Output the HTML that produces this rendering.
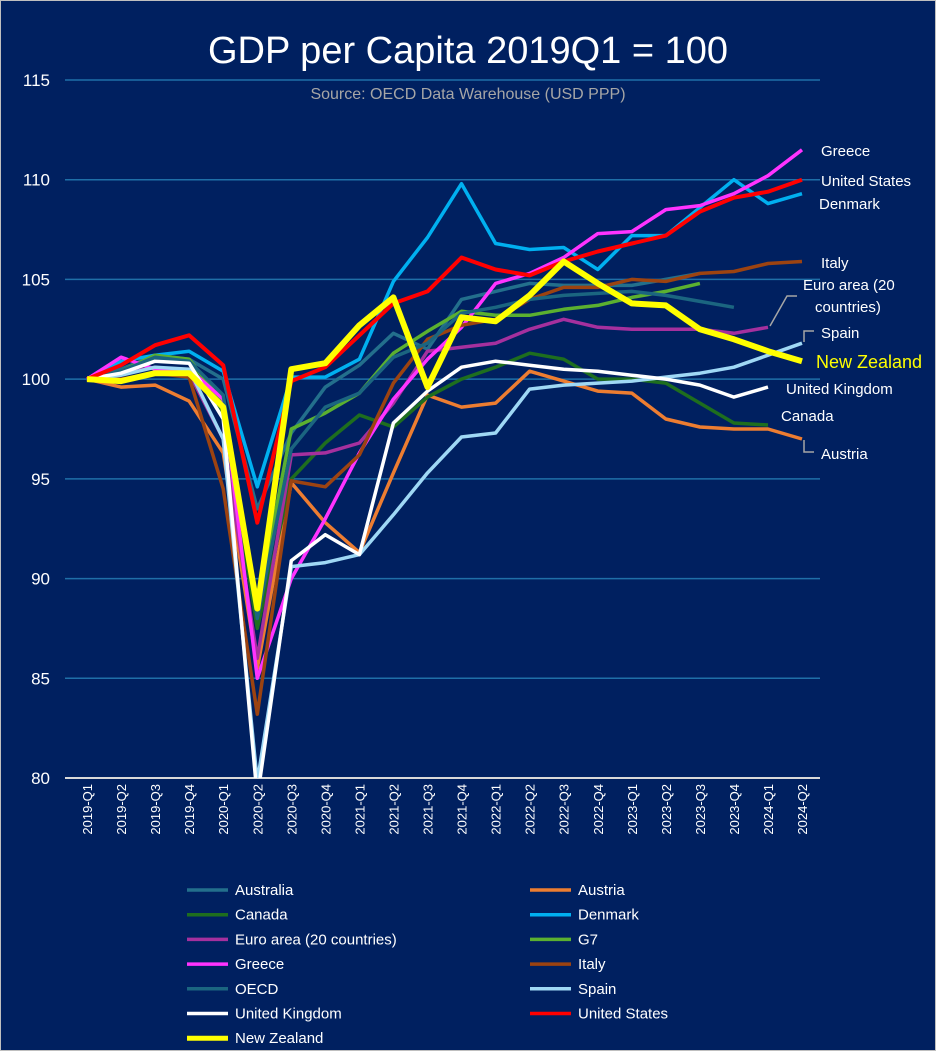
<!DOCTYPE html>
<html><head><meta charset="utf-8"><style>
body{margin:0;background:#fff}
svg{display:block;font-family:"Liberation Sans",sans-serif}
</style></head><body>
<svg id="c" width="936" height="1051">
<rect x="0.5" y="0.5" width="935" height="1050" fill="#002060" stroke="#bfbfbf"/>
<text x="468" y="63" text-anchor="middle" fill="#fff" font-size="38">GDP per Capita 2019Q1 = 100</text>
<text x="468" y="99" text-anchor="middle" fill="#a6a6a6" font-size="16">Source: OECD Data Warehouse (USD PPP)</text>
<g id="grid"></g><g id="lines"></g><g id="labels"></g><g id="legend"></g>
</svg>
<script>
const quarters=["2019-Q1","2019-Q2","2019-Q3","2019-Q4","2020-Q1","2020-Q2","2020-Q3","2020-Q4","2021-Q1","2021-Q2","2021-Q3","2021-Q4","2022-Q1","2022-Q2","2022-Q3","2022-Q4","2023-Q1","2023-Q2","2023-Q3","2023-Q4","2024-Q1","2024-Q2"];
const yTicks=[80,85,90,95,100,105,110,115];
const australia=[100,100.5,101.2,101.0,100.0,93.5,97.3,99.6,100.7,102.3,101.5,104.0,104.4,104.8,104.7,104.7,104.7,105.0,105.3,null,null,null];
const austria=[100,99.6,99.7,98.9,96.3,85.5,94.8,92.8,91.3,95.3,99.2,98.6,98.8,100.4,99.9,99.4,99.3,98.0,97.6,97.5,97.5,97.0];
const canada=[100,100.2,101.1,101.0,98.2,87.5,95.0,96.8,98.2,97.6,99.1,100.0,100.6,101.3,101.0,100.0,100.0,99.8,98.8,97.8,97.7,null];
const denmark=[100,100.9,101.2,101.4,100.4,94.6,100.1,100.1,101.0,104.9,107.1,109.8,106.8,106.5,106.6,105.5,107.2,107.2,108.6,110.0,108.8,109.3];
const euroArea=[100,100.3,100.6,100.3,97.0,86.0,96.2,96.3,96.8,98.8,101.4,101.6,101.8,102.5,103.0,102.6,102.5,102.5,102.5,102.3,102.6,null];
const g7=[100,100.4,101.2,101.0,98.8,88.5,97.5,98.3,99.3,101.3,102.4,103.4,103.2,103.2,103.5,103.7,104.1,104.4,104.8,null,null,null];
const greece=[100,101.1,100.5,100.5,99.0,85.0,90.0,93.0,96.3,99.0,101.0,102.6,104.8,105.3,106.1,107.3,107.4,108.5,108.7,109.3,110.2,111.5];
const italy=[100,100.0,100.3,100.1,94.5,83.2,94.9,94.6,96.2,99.8,102.0,102.7,103.0,104.0,104.6,104.6,105.0,104.9,105.3,105.4,105.8,105.9];
const oecd=[100,100.4,101.1,100.9,99.2,88.0,96.5,98.6,99.3,101.1,101.8,103.3,103.6,104.0,104.2,104.3,104.4,104.2,103.9,103.6,null,null];
const spain=[100,100.2,100.6,100.5,97.0,79.8,90.6,90.8,91.2,93.2,95.3,97.1,97.3,99.5,99.7,99.8,99.9,100.1,100.3,100.6,101.2,101.8];
const uk=[100,100.3,100.9,100.8,98.0,79.0,90.9,92.2,91.2,97.8,99.4,100.6,100.9,100.7,100.5,100.4,100.2,100.0,99.7,99.1,99.6,null];
const us=[100,100.7,101.7,102.2,100.7,92.8,99.9,100.6,102.2,103.8,104.4,106.1,105.5,105.2,105.9,106.4,106.8,107.2,108.4,109.1,109.4,110.0];
const nz=[100,99.9,100.3,100.3,98.6,88.5,100.5,100.8,102.7,104.1,99.6,103.1,102.9,104.2,105.9,104.8,103.8,103.7,102.5,102.0,101.4,100.9];
const seriesNames=["Australia","Austria","Canada","Denmark","Euro area (20 countries)","G7","Greece","Italy","OECD","Spain","United Kingdom","United States","New Zealand"];
const seriesData=[australia,austria,canada,denmark,euroArea,g7,greece,italy,oecd,spain,uk,us,nz];
const colors=["#236f8c","#ed7d31","#1e6e1e","#00b0f0","#a5309e","#5bb030","#ff33ff","#9c4311","#1b6580","#9fd8f5","#ffffff","#ff0000","#ffff00"];
const widths=[3.5,3.5,3.5,3.5,3.5,3.5,3.5,3.5,3.5,3.5,3.5,4,6];
const NS="http://www.w3.org/2000/svg";
const x0=87,dx=34.05,yTop=80,yBot=778,vMin=80,vMax=115;
const xs=i=>x0+i*dx;
const ys=v=>yBot-(v-vMin)*(yBot-yTop)/(vMax-vMin);
function mk(t,a,p){const e=document.createElementNS(NS,t);for(const k in a)e.setAttribute(k,a[k]);p.appendChild(e);return e;}
const grid=document.getElementById('grid');
yTicks.forEach(v=>{
 const l=mk('line',{x1:65,x2:820,y1:ys(v),y2:ys(v),stroke:v===80?'#d9d9d9':'#1f6fa8','stroke-width':v===80?2:1.5},grid);
 
 
 const t=mk('text',{x:50,y:ys(v)+6,'text-anchor':'end',fill:'#fff','font-size':17},grid);
 t.textContent=v;
 
 
});
quarters.forEach((q,i)=>{
 const t=mk('text',{transform:`translate(${xs(i)+5},784) rotate(-90)`,'text-anchor':'end',fill:'#fff','font-size':13},grid);
 t.textContent=q;
 
 
});
mk('clipPath',{id:'cp'},document.getElementById('c'));
mk('rect',{x:60,y:70,width:800,height:yBot-70},document.getElementById('cp'));
const lg=document.getElementById('lines');
seriesData.forEach((d,s)=>{
 let p='';d.forEach((v,i)=>{if(v!==null)p+=(p?'L':'M')+xs(i).toFixed(1)+','+ys(v).toFixed(1);});
 const e=mk('path',{d:p,fill:'none',stroke:colors[s],'stroke-width':widths[s],'stroke-linejoin':'round','clip-path':'url(#cp)'},lg);
 
 
});
const lab=document.getElementById('labels');
const endLabels=[["Greece",821,156,"#fff",15],["United States",821,186,"#fff",15],["Denmark",819,209,"#fff",15],["Italy",821,268,"#fff",15],["Euro area (20",803,290,"#fff",15],["countries)",815,312,"#fff",15],["Spain",821,338,"#fff",15],["New Zealand",816,368,"#ffff00",18],["United Kingdom",786,394,"#fff",15],["Canada",781,421,"#fff",15],["Austria",821,459,"#fff",15]];
endLabels.forEach(a=>{
 const t=mk('text',{x:a[1],y:a[2],fill:a[3],'font-size':a[4]},lab);
 t.textContent=a[0];
 
 
});
mk('polyline',{points:"770,326 787,296 797,296",fill:'none',stroke:'#a6a6a6','stroke-width':1.5},lab);
mk('polyline',{points:"804,342 804,331 814,331",fill:'none',stroke:'#a6a6a6','stroke-width':1.5},lab);
mk('polyline',{points:"804,440 804,452 814,452",fill:'none',stroke:'#a6a6a6','stroke-width':1.5},lab);
const leg=document.getElementById('legend');
seriesNames.forEach((n,s)=>{
 const col=s%2,row=Math.floor(s/2);
 const lx=col?530:187,ly=890+row*24.7;
 const g=mk('g',{},leg);
 
 
 mk('line',{x1:lx,x2:lx+41,y1:ly,y2:ly,stroke:colors[s],'stroke-width':s===12?5:3.5},g);
 const t=mk('text',{x:lx+48,y:ly+5,fill:'#fff','font-size':15},g);
 t.textContent=n;
});
</script>
</body></html>
